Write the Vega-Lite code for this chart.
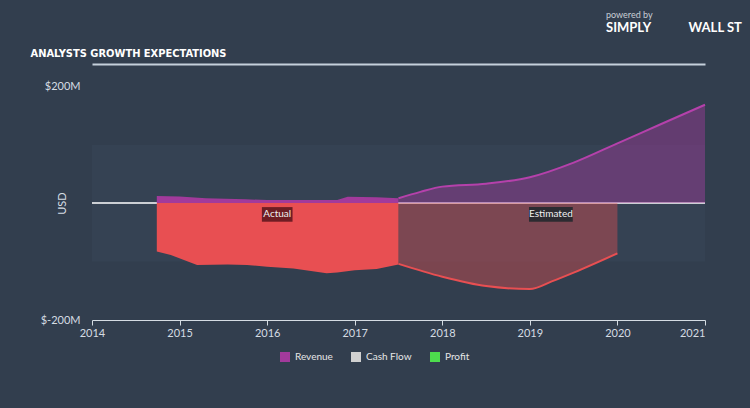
{
  "$schema": "https://vega.github.io/schema/vega-lite/v6.json",
  "width": 613,
  "height": 234,
  "autosize": {"type": "none"},
  "padding": {"left": 92, "top": 86, "right": 45, "bottom": 88},
  "background": "#323e4e",
  "config": {
    "view": {"stroke": null},
    "font": "Lato",
    "axis": {"grid": false, "labelFont": "Lato", "titleFont": "Lato"},
    "legend": {"labelFont": "Lato"}
  },
  "title": {
    "text": "powered by",
    "subtitle": "SIMPLY\u00a0\u00a0\u00a0\u00a0\u00a0\u00a0\u00a0\u00a0\u00a0\u00a0\u00a0\u00a0WALL ST",
    "anchor": "start",
    "frame": "group",
    "dx": 514,
    "offset": 12,
    "font": "Lato",
    "fontSize": 9,
    "fontWeight": "normal",
    "color": "#c8ced6",
    "subtitleFont": "Lato",
    "subtitleFontSize": 13,
    "subtitleFontWeight": "bold",
    "subtitleColor": "#ffffff",
    "subtitlePadding": 2
  },
  "datasets": {
    "band": [{"x0": 2014, "x1": 2021, "lo": -100, "hi": 99}],
    "revActual": [
      {"year": 2014.74, "v": 12},
      {"year": 2015.0, "v": 11},
      {"year": 2015.3, "v": 8},
      {"year": 2015.75, "v": 6.5},
      {"year": 2016.0, "v": 5},
      {"year": 2016.5, "v": 5},
      {"year": 2016.8, "v": 5},
      {"year": 2016.92, "v": 10.5},
      {"year": 2017.25, "v": 10},
      {"year": 2017.5, "v": 8}
    ],
    "revEst": [
      {"year": 2017.5, "v": 8},
      {"year": 2017.75, "v": 19},
      {"year": 2018.0, "v": 28},
      {"year": 2018.5, "v": 33},
      {"year": 2019.0, "v": 44},
      {"year": 2019.5, "v": 69},
      {"year": 2020.0, "v": 102},
      {"year": 2020.5, "v": 135},
      {"year": 2021.0, "v": 168}
    ],
    "profActual": [
      {"year": 2014.74, "v": -83},
      {"year": 2014.9, "v": -89},
      {"year": 2015.2, "v": -106},
      {"year": 2015.55, "v": -105},
      {"year": 2015.77, "v": -106},
      {"year": 2016.0, "v": -109},
      {"year": 2016.3, "v": -112},
      {"year": 2016.68, "v": -120},
      {"year": 2016.8, "v": -119},
      {"year": 2017.0, "v": -115},
      {"year": 2017.25, "v": -113},
      {"year": 2017.5, "v": -105}
    ],
    "profEst": [
      {"year": 2017.5, "v": -104},
      {"year": 2018.0, "v": -126},
      {"year": 2018.5, "v": -142},
      {"year": 2019.0, "v": -147},
      {"year": 2019.25, "v": -134},
      {"year": 2019.5, "v": -119},
      {"year": 2020.0, "v": -86}
    ],
    "labels": [
      {"label": "Actual", "x0": 2015.94, "x1": 2016.29, "xm": 2016.115, "y0": -7, "y1": -32, "ym": -19.5},
      {"label": "Estimated", "x0": 2018.99, "x1": 2019.49, "xm": 2019.24, "y0": -7, "y1": -32, "ym": -19.5}
    ]
  },
  "resolve": {"axis": {"x": "independent"}},
  "layer": [
    {
      "data": {"name": "band"},
      "mark": {"type": "rect", "fill": "#354253"},
      "encoding": {
        "x": {"field": "x0", "type": "quantitative", "scale": {"domain": [2014, 2021], "nice": false, "zero": false}, "axis": null},
        "x2": {"field": "x1"},
        "y": {"field": "lo", "type": "quantitative", "scale": {"domain": [-200, 200], "nice": false}, "axis": {
          "values": [-200, 200], "labelExpr": "'$' + datum.value + 'M'",
          "domain": false, "ticks": false, "labelColor": "#d5dce3", "labelFontSize": 11,
          "labelPadding": 12, "title": "USD", "titleColor": "#d5dce3", "titleFontSize": 11,
          "titleFontWeight": "normal", "titleX": -30, "titleY": 117, "titleBaseline": "middle", "titleAlign": "center"
        }},
        "y2": {"field": "hi"}
      }
    },
    {
      "data": {"name": "band"},
      "mark": {"type": "rule", "color": "#ffffff", "strokeWidth": 1.5},
      "encoding": {
        "x": {"field": "x0", "type": "quantitative", "axis": {
          "orient": "top", "offset": 22, "labels": false, "ticks": false,
          "domain": true, "domainColor": "#c5d0db", "domainWidth": 2,
          "title": "ANALYSTS GROWTH EXPECTATIONS",
          "titleFont": "DejaVu Sans Condensed, Roboto, sans-serif", "titleFontWeight": "bold", "titleFontSize": 11,
          "titleColor": "#ffffff", "titleAnchor": "start", "titleAlign": "left",
          "titleX": -62, "titleY": -11, "titleBaseline": "middle"
        }},
        "x2": {"field": "x1"},
        "y": {"datum": 0, "type": "quantitative"}
      }
    },
    {
      "data": {"name": "revActual"},
      "mark": {"type": "area"},
      "encoding": {
        "x": {"field": "year", "type": "quantitative", "axis": {
          "values": [2014, 2015, 2016, 2017, 2018, 2019, 2020, 2021],
          "format": "d", "title": null, "labelFlush": false,
          "labelAlign": {"condition": {"test": "datum.value == 2021", "value": "right"}, "value": "center"},
          "domainColor": "#d5dce3", "tickColor": "#d5dce3", "tickSize": 5,
          "labelColor": "#d5dce3", "labelFontSize": 11, "labelPadding": 2
        }},
        "y": {"field": "v", "type": "quantitative"},
        "color": {
          "datum": "Revenue",
          "scale": {"domain": ["Revenue", "Cash Flow", "Profit"], "range": ["#a23a9b", "#d0d0d0", "#4ddd4d"]},
          "legend": {
            "orient": "none", "legendX": 188, "legendY": 266, "direction": "horizontal",
            "title": null, "symbolType": "square", "symbolSize": 100, "symbolStrokeWidth": 0,
            "labelColor": "#e6e6e6", "labelFontSize": 10, "columnPadding": 18, "labelOffset": 5
          }
        }
      }
    },
    {
      "data": {"name": "revEst"},
      "mark": {"type": "area", "fill": "#a03a9c", "fillOpacity": 0.45, "interpolate": "monotone",
        "line": {"stroke": "#b541ab", "strokeWidth": 2}},
      "encoding": {
        "x": {"field": "year", "type": "quantitative", "axis": null},
        "y": {"field": "v", "type": "quantitative"}
      }
    },
    {
      "data": {"name": "profActual"},
      "mark": {"type": "area", "fill": "#e84f52"},
      "encoding": {
        "x": {"field": "year", "type": "quantitative", "axis": null},
        "y": {"field": "v", "type": "quantitative"}
      }
    },
    {
      "data": {"name": "profEst"},
      "mark": {"type": "area", "fill": "#e84f52", "fillOpacity": 0.4, "interpolate": "monotone",
        "line": {"stroke": "#e84f52", "strokeWidth": 2}},
      "encoding": {
        "x": {"field": "year", "type": "quantitative", "axis": null},
        "y": {"field": "v", "type": "quantitative"}
      }
    },
    {
      "data": {"name": "labels"},
      "mark": {"type": "rect"},
      "encoding": {
        "x": {"field": "x0", "type": "quantitative", "axis": null},
        "x2": {"field": "x1"},
        "y": {"field": "y0", "type": "quantitative"},
        "y2": {"field": "y1"},
        "fill": {"field": "label", "type": "nominal", "scale": {"domain": ["Actual", "Estimated"], "range": ["#6e1d24", "#2c2b31"]}, "legend": null}
      }
    },
    {
      "data": {"name": "labels"},
      "mark": {"type": "text", "color": "#f0f0f0", "fontSize": 10, "font": "Lato"},
      "encoding": {
        "x": {"field": "xm", "type": "quantitative", "axis": null},
        "y": {"field": "ym", "type": "quantitative"},
        "text": {"field": "label"}
      }
    }
  ]
}
